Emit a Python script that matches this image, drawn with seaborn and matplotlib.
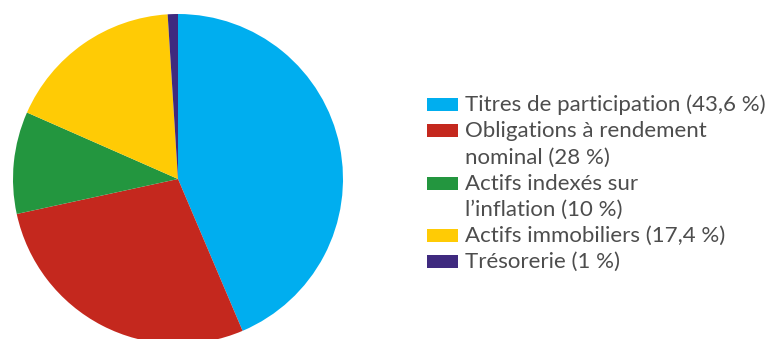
import matplotlib
matplotlib.use("Agg")
import matplotlib.pyplot as plt
from matplotlib.patches import Rectangle
import seaborn as sns

sns.set_theme(style="white")
plt.rcParams["font.family"] = ["Lato", "DejaVu Sans"]

# data
categories = ["Titres de participation (43,6 %)",
              "Obligations à rendement\nnominal (28 %)",
              "Actifs indexés sur\nl’inflation (10 %)",
              "Actifs immobiliers (17,4 %)",
              "Trésorerie (1 %)"]
shares = [43.6, 28, 10, 17.4, 1]
colors = ["#00AEEF", "#C4281E", "#23963F", "#FFCB05", "#3F2A7F"]

W, H = 767, 339
fig = plt.figure(figsize=(W / 100, H / 100), dpi=100)

# pie, centre (178, 179) px, radius 165 px
r = 165
ax = fig.add_axes([(178 - r) / W, (H - 179 - r) / H, 2 * r / W, 2 * r / H])
ax.pie(shares, colors=colors, startangle=90, counterclock=False,
       radius=1, wedgeprops=dict(linewidth=0))
ax.set_xlim(-1, 1)
ax.set_ylim(-1, 1)
ax.set_aspect("equal")
ax.axis("off")

# legend drawn by hand so swatches sit on the first line of each label
line_h = 26.2
baseline = 111
line = 0
for lab, col in zip(categories, colors):
    y0 = baseline + line * line_h
    fig.patches.append(Rectangle((427 / W, (H - y0) / H), 31 / W, 13 / H,
                                 transform=fig.transFigure, color=col, lw=0))
    for k, part in enumerate(lab.split("\n")):
        fig.text(465 / W, (H - (y0 + k * line_h)) / H, part,
                 fontsize=16, color="#4d4d4d", va="baseline", ha="left")
    line += lab.count("\n") + 1

fig.savefig("out.png", dpi=100)
